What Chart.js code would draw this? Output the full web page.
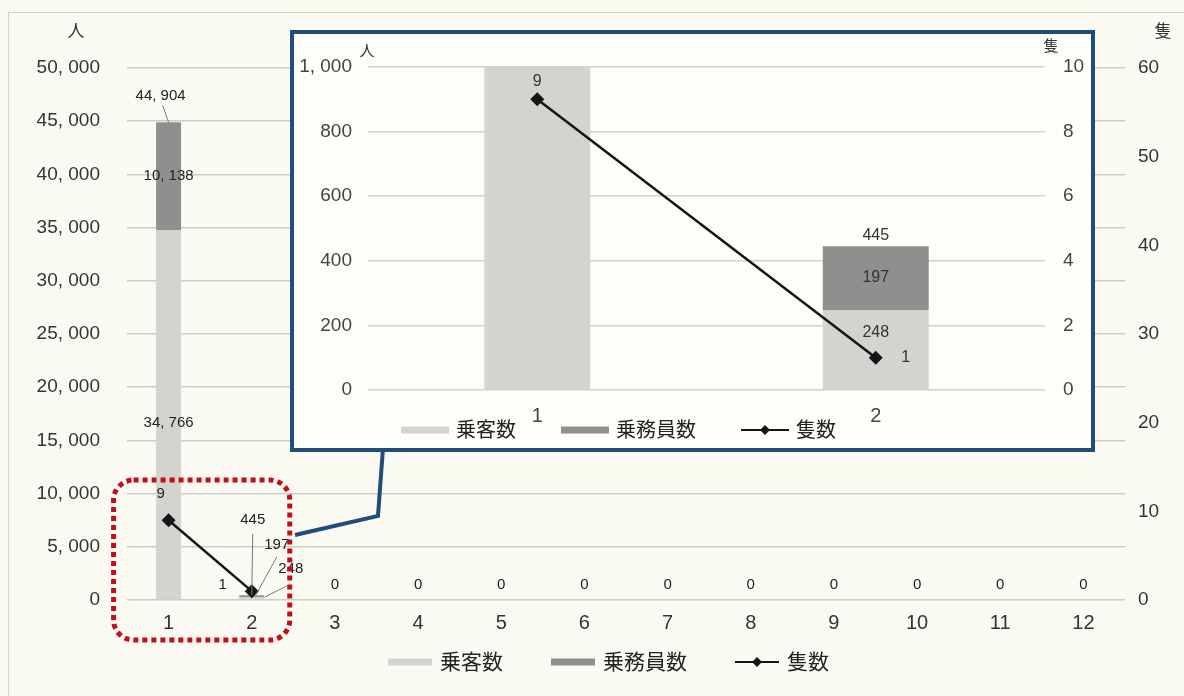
<!DOCTYPE html>
<html>
<head>
<meta charset="utf-8">
<script src="https://cdn.jsdelivr.net/npm/chart.js@4.4.0/dist/chart.umd.min.js"></script>
<style>
  body { margin: 0; background: #fbfaf2; }
  #wrap { position: relative; width: 1184px; height: 696px; overflow: hidden; }
  #frame { position: absolute; left: 8px; top: 12px; width: 1200px; height: 700px;
           border-left: 1px solid #d4d4cc; border-top: 1px solid #d4d4cc; }
  #mainChart { position: absolute; left: 0; top: 0; }
  #insetBox { position: absolute; left: 290px; top: 30px; width: 797px; height: 414px;
              border: 4px solid #1f4e79; background: #fdfdf9; }
  #insetChart { position: absolute; left: 0; top: 0; }
</style>
</head>
<body>
<div id="wrap">
  <div id="frame"></div>
  <canvas id="mainChart" width="1184" height="696"></canvas>
  <div id="insetBox"><canvas id="insetChart" width="797" height="414"></canvas></div>
</div>
<script>
// データ
const months = ['1', '2', '3', '4', '5', '6', '7', '8', '9', '10', '11', '12'];
const passengers = [34766, 248, 0, 0, 0, 0, 0, 0, 0, 0, 0, 0];
const crew = [10138, 197, 0, 0, 0, 0, 0, 0, 0, 0, 0, 0];
const ships = [9, 1, 0, 0, 0, 0, 0, 0, 0, 0, 0, 0];
const seriesNames = ['乗客数', '乗務員数', '隻数'];
const unitPeople = '人';
const unitShips = '隻';

// 拡大図は1月と2月だけ
const insetMonths = months.slice(0, 2);
const insetPassengers = passengers.slice(0, 2);
const insetCrew = crew.slice(0, 2);
const insetShips = ships.slice(0, 2);

const FONT = '"Liberation Sans", Arial, "Noto Sans CJK JP", sans-serif';
const LIGHT = '#d3d3d0';
const DARK = '#8f8f8d';
const LINE = '#151515';

function fmt(v) {
    return Number(v).toLocaleString('en-US').replace(/,/g, ', ');
}

function text(ctx, s, x, y) {
    ctx.fillText(s, x, y);
}

function leader(ctx, x1, y1, x2, y2) {
    ctx.beginPath();
    ctx.moveTo(x1, y1);
    ctx.lineTo(x2, y2);
    ctx.stroke();
}

function diamond(ctx, x, y, r) {
    ctx.beginPath();
    ctx.moveTo(x, y - r);
    ctx.lineTo(x + r, y);
    ctx.lineTo(x, y + r);
    ctx.lineTo(x - r, y);
    ctx.closePath();
    ctx.fill();
}

// 凡例（線＋ひし形を描くため自前）
function drawLegend(chart, x0, y, o) {
    var ctx = chart.ctx;
    ctx.save();
    ctx.font = o.font + 'px ' + FONT;
    ctx.textBaseline = 'middle';
    ctx.textAlign = 'left';
    var x = x0;
    chart.data.datasets.forEach(function (ds) {
        if (ds.type === 'line') {
            ctx.strokeStyle = ds.borderColor;
            ctx.fillStyle = ds.borderColor;
            ctx.lineWidth = 2;
            leader(ctx, x, y, x + o.sw, y);
            diamond(ctx, x + o.sw / 2, y, 5);
        } else {
            ctx.fillStyle = ds.backgroundColor;
            ctx.fillRect(x, y - 3.5, o.sw, 7);
        }
        ctx.fillStyle = '#222';
        ctx.fillText(ds.label, x + o.tx, y + 1);
        x += o.tx + ctx.measureText(ds.label).width + o.gap;
    });
    ctx.restore();
}

function makeDatasets(p, c, s, barPct) {
    return [{
        type: 'bar',
        label: seriesNames[0],
        data: p,
        backgroundColor: LIGHT,
        yAxisID: 'y',
        order: 1,
        categoryPercentage: 1,
        barPercentage: barPct
    }, {
        type: 'bar',
        label: seriesNames[1],
        data: c,
        backgroundColor: DARK,
        yAxisID: 'y',
        order: 1,
        categoryPercentage: 1,
        barPercentage: barPct
    }, {
        type: 'line',
        label: seriesNames[2],
        data: s,
        yAxisID: 'y2',
        order: 0,
        borderColor: LINE,
        backgroundColor: LINE,
        borderWidth: 2.5,
        pointStyle: 'rectRot',
        pointRadius: function (ctx) { return ctx.raw === 0 ? 0 : 7; },
        pointBackgroundColor: LINE,
        pointBorderWidth: 0,
        segment: {
            borderColor: function (ctx) {
                return (ctx.p0.parsed.y === 0 || ctx.p1.parsed.y === 0) ? 'transparent' : LINE;
            }
        }
    }];
}

// メイングラフのラベル・凡例・注記
var mainDeco = {
    id: 'mainDeco',
    afterDatasetsDraw: function (chart) {
        var ctx = chart.ctx;
        var xs = chart.scales.x, ys = chart.scales.y, y2 = chart.scales.y2;
        var b = ys.getPixelForValue(0);
        ctx.save();
        ctx.font = '15px ' + FONT;
        ctx.fillStyle = '#222';
        ctx.textAlign = 'center';
        ctx.textBaseline = 'middle';
        ctx.strokeStyle = '#777';
        ctx.lineWidth = 1;
        months.forEach(function (m, i) {
            var x = xs.getPixelForValue(i);
            var p = passengers[i], c = crew[i], t = p + c;
            var sy = y2.getPixelForValue(ships[i]);
            if (t > 5000) {
                var top = ys.getPixelForValue(t);
                text(ctx, fmt(t), x - 8, top - 26);
                leader(ctx, x - 6, top - 17, x, top);
                text(ctx, fmt(c), x, ys.getPixelForValue(p + c / 2));
                text(ctx, fmt(p), x, ys.getPixelForValue(p / 2) + 8);
                text(ctx, ships[i], x - 8, sy - 26);
            } else if (t > 0) {
                text(ctx, fmt(t), x + 1, b - 80);
                leader(ctx, x + 1, b - 66, x, ys.getPixelForValue(t));
                text(ctx, fmt(c), x + 25, b - 55);
                leader(ctx, x + 25, b - 43, x + 4, b - 5);
                text(ctx, fmt(p), x + 39, b - 31);
                leader(ctx, x + 35, b - 14, x + 13, b - 3);
                text(ctx, ships[i], x - 29, b - 15);
            } else {
                text(ctx, ships[i], x, b - 15);
            }
        });

        // 単位
        ctx.font = '17px ' + FONT;
        ctx.fillStyle = '#333';
        text(ctx, unitPeople, 76, 32);
        text(ctx, unitShips, 1163, 32);

        // 赤い点線の枠（1月・2月を囲む）
        var left = xs.getPixelForValue(0) - 55, right = xs.getPixelForValue(1) + 38;
        ctx.strokeStyle = '#c40d1e';
        ctx.lineWidth = 5;
        ctx.setLineDash([5, 4]);
        ctx.beginPath();
        ctx.roundRect(left, b - 120, right - left, 160, 20);
        ctx.stroke();
        ctx.setLineDash([]);

        // 拡大図への引き出し線
        ctx.strokeStyle = '#1f4e79';
        ctx.lineWidth = 4;
        ctx.beginPath();
        ctx.moveTo(383, 448);
        ctx.lineTo(378, 516);
        ctx.lineTo(295, 535);
        ctx.stroke();
        ctx.restore();

        drawLegend(chart, 388, 662, { font: 21, sw: 44, tx: 52, gap: 48 });
    }
};

// 拡大図のラベル・凡例
var insetDeco = {
    id: 'insetDeco',
    afterDatasetsDraw: function (chart) {
        var ctx = chart.ctx;
        var xs = chart.scales.x, ys = chart.scales.y, y2 = chart.scales.y2;
        ctx.save();
        ctx.font = '16px ' + FONT;
        ctx.fillStyle = '#333';
        ctx.textAlign = 'center';
        ctx.textBaseline = 'middle';
        insetMonths.forEach(function (m, i) {
            var x = xs.getPixelForValue(i);
            var p = insetPassengers[i], c = insetCrew[i], t = p + c;
            var sy = y2.getPixelForValue(insetShips[i]);
            if (t <= ys.max) {
                text(ctx, fmt(t), x, ys.getPixelForValue(t) - 11);
                text(ctx, fmt(c), x, ys.getPixelForValue(p + c / 2));
                text(ctx, fmt(p), x, ys.getPixelForValue(p) + 23);
                text(ctx, insetShips[i], x + 30, sy);
            } else {
                text(ctx, insetShips[i], x, sy - 18);
            }
        });
        ctx.font = '15px ' + FONT;
        text(ctx, unitPeople, 73, 18);
        text(ctx, unitShips, 757, 13);
        ctx.restore();

        drawLegend(chart, 107, 396, { font: 20, sw: 48, tx: 55, gap: 45 });
    }
};

function tickFont(size) {
    return { family: FONT, size: size };
}

var mainCanvas = document.getElementById('mainChart');
new Chart(mainCanvas, {
    data: {
        labels: months,
        datasets: makeDatasets(passengers, crew, ships, 0.3)
    },
    options: {
        responsive: false,
        animation: false,
        layout: { padding: { top: 68, left: 0, right: 0, bottom: 0 } },
        plugins: { legend: { display: false }, tooltip: { enabled: false } },
        scales: {
            x: {
                stacked: true,
                grid: { display: false },
                border: { display: false },
                ticks: { font: tickFont(20), color: '#333', padding: 3 },
                afterFit: function (s) { s.height = 96; }
            },
            y: {
                stacked: true,
                min: 0,
                max: 50000,
                grid: { color: '#cdcdc7', lineWidth: 1.5, drawTicks: false },
                border: { display: false },
                ticks: { stepSize: 5000, font: tickFont(19), color: '#333', padding: 27, callback: fmt },
                afterFit: function (s) { s.width = 127; }
            },
            y2: {
                position: 'right',
                min: 0,
                max: 60,
                grid: { display: false, drawTicks: false },
                border: { display: false },
                ticks: { stepSize: 10, font: tickFont(19), color: '#333', padding: 13 },
                afterFit: function (s) { s.width = 59; }
            }
        }
    },
    plugins: [mainDeco]
});

var insetCanvas = document.getElementById('insetChart');
new Chart(insetCanvas, {
    data: {
        labels: insetMonths,
        datasets: makeDatasets(insetPassengers, insetCrew, insetShips, 0.313)
    },
    options: {
        responsive: false,
        animation: false,
        layout: { padding: { top: 33, left: 0, right: 0, bottom: 0 } },
        plugins: { legend: { display: false }, tooltip: { enabled: false } },
        scales: {
            x: {
                stacked: true,
                grid: { display: false },
                border: { display: false },
                ticks: { font: tickFont(20), color: '#444', padding: 6 },
                afterFit: function (s) { s.height = 58; }
            },
            y: {
                stacked: true,
                min: 0,
                max: 1000,
                grid: { color: '#d2d2cc', lineWidth: 1.5, drawTicks: false },
                border: { display: false },
                ticks: { stepSize: 200, font: tickFont(19), color: '#444', padding: 16, callback: fmt },
                afterFit: function (s) { s.width = 74; }
            },
            y2: {
                position: 'right',
                min: 0,
                max: 10,
                grid: { display: false, drawTicks: false },
                border: { display: false },
                ticks: { stepSize: 2, font: tickFont(19), color: '#444', padding: 18 },
                afterFit: function (s) { s.width = 46; }
            }
        }
    },
    plugins: [insetDeco]
});
</script>
</body>
</html>
